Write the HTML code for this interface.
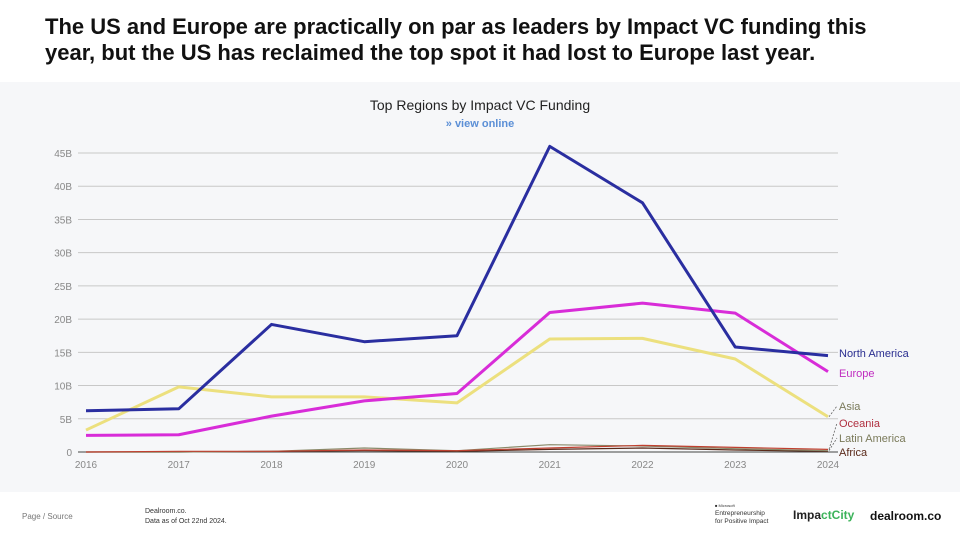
<!DOCTYPE html>
<html><head><meta charset="utf-8">
<style>
html,body{margin:0;padding:0;background:#fff;}
body{width:960px;height:540px;overflow:hidden;position:relative;font-family:"Liberation Sans",sans-serif;}
#title{position:absolute;left:45px;top:14px;font-size:22px;font-weight:bold;color:#111;line-height:26px;letter-spacing:0;}
#panel{position:absolute;left:0;top:82px;width:960px;height:410px;background:#f6f7f9;}
svg{position:absolute;left:0;top:0;}
.foot{position:absolute;font-size:7px;color:#333;}
</style></head><body>
<div id="title">The US and Europe are practically on par as leaders by Impact VC funding this<br>year, but the US has reclaimed the top spot it had lost to Europe last year.</div>
<div id="panel"></div>
<svg id="chart" width="960" height="540"></svg>
<div class="foot" style="left:145px;top:507px;line-height:10px">Dealroom.co.<br>Data as of Oct 22nd 2024.</div>
<div class="foot" style="left:22px;top:512px;font-size:8px;color:#777">Page / Source</div>
<div class="foot" style="left:715px;top:502px;line-height:8px;font-size:6.5px"><span style="font-size:4px">■ Microsoft</span><br>Entrepreneurship<br>for Positive Impact</div>
<div class="foot" style="left:793px;top:508px;font-size:12px;font-weight:bold;color:#222">Impa<span style="color:#3cb35a">ctCity</span></div>
<div class="foot" style="left:870px;top:509px;font-size:12px;font-weight:bold;color:#111">dealroom.co</div>
<script>
const years=["2016","2017","2018","2019","2020","2021","2022","2023","2024"];
const northAmerica=[6.2,6.5,19.2,16.6,17.5,46,37.5,15.8,14.5];
const europe=[2.5,2.6,5.4,7.7,8.8,21,22.4,20.9,12.1];
const asia=[3.3,9.8,8.3,8.3,7.4,17,17.1,14,5.3];
const oceania=[0,0.1,0.1,0.3,0.2,0.6,1.0,0.7,0.4];
const latinAmerica=[0,0,0.1,0.6,0.2,1.1,0.9,0.5,0.2];
const africa=[0,0,0.1,0.2,0.1,0.4,0.6,0.3,0.1];
const yTicks=[0,5,10,15,20,25,30,35,40,45];
const NS="http://www.w3.org/2000/svg";
const svg=document.getElementById('chart');
const x0=86,x1=828,y0=452,yTop=153,vMax=45;
function xs(i){return x0+(x1-x0)*i/(years.length-1);}
function ys(v){return y0-(y0-yTop)*v/vMax;}
function mk(tag,attrs,txt){const e=document.createElementNS(NS,tag);for(const k in attrs)e.setAttribute(k,attrs[k]);if(txt!==undefined)e.textContent=txt;svg.appendChild(e);return e;}
let t=mk('text',{x:480,y:110,'text-anchor':'middle','font-size':14,fill:'#222'},'Top Regions by Impact VC Funding');


t=mk('text',{x:480,y:127,'text-anchor':'middle','font-size':11,'font-weight':'bold',fill:'#5b8fd6'},'» view online');


yTicks.forEach(v=>{
  const l=mk('line',{x1:78,x2:838,y1:ys(v),y2:ys(v),stroke:v===0?'#444':'#c8c8c8','stroke-width':1});
  
  
  const tx=mk('text',{x:72,y:ys(v)+4,'text-anchor':'end','font-size':10,fill:'#888'},v===0?'0':v+'B');
  
  
});
years.forEach((y,i)=>{
  const tx=mk('text',{x:xs(i),y:468,'text-anchor':'middle','font-size':10,fill:'#888'},y);
  
  
});
const series=[
 {n:'africa',d:africa,c:'#5a2a1a',w:1.2,label:'Africa',ly:456},
 {n:'latin-america',d:latinAmerica,c:'#8a8a6a',w:1.2,label:'Latin America',ly:442},
 {n:'oceania',d:oceania,c:'#c04030',w:1.2,label:'Oceania',ly:427},
 {n:'asia',d:asia,c:'#ece07e',w:3,label:'Asia',ly:410},
 {n:'europe',d:europe,c:'#d82cd8',w:3,label:'Europe',ly:377},
 {n:'north-america',d:northAmerica,c:'#2a2ea0',w:3,label:'North America',ly:357}
];
const labelColors={'africa':'#5a2a1a','latin-america':'#7a7a5a','oceania':'#b03040','asia':'#7a7a5a','europe':'#c02cc0','north-america':'#2a2e90'};
series.forEach(s=>{
  const p=mk('polyline',{points:s.d.map((v,i)=>xs(i)+','+ys(v)).join(' '),fill:'none',stroke:s.c,'stroke-width':s.w,'stroke-linejoin':'round'});
  
  
  const lv=s.d[s.d.length-1];
  if(Math.abs(ys(lv)-(s.ly-4))>6){
    const c=mk('line',{x1:x1+1,y1:ys(lv),x2:x1+9,y2:s.ly-4,stroke:'#666','stroke-width':0.8,'stroke-dasharray':'2,1.5'});
    
    
  }
  const tx=mk('text',{x:839,y:s.ly,'font-size':11,fill:labelColors[s.n]},s.label);
  
  
});
</script>
</body></html>
